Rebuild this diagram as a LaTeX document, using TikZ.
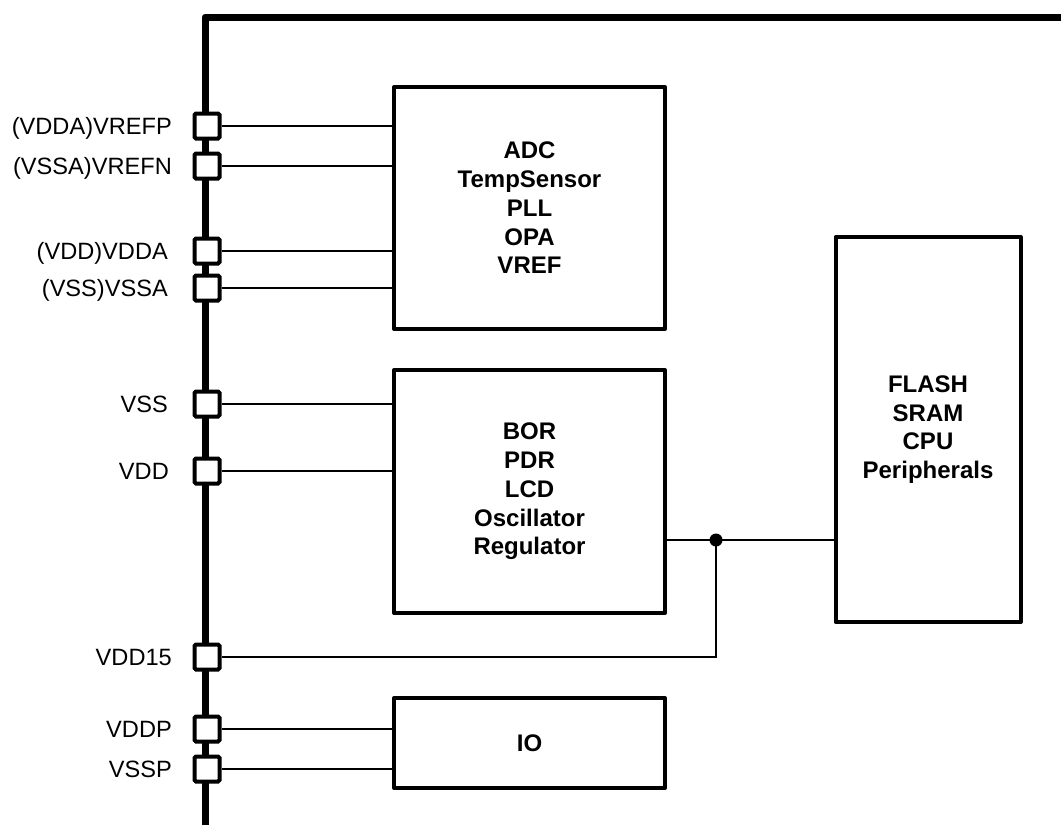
\documentclass[tikz,border=0pt]{standalone}
\usepackage{fontspec}
\setmainfont{Liberation Sans}
\begin{document}
\begin{tikzpicture}[x=1pt,y=-1pt,
  bus/.style={line width=7pt, line join=round},
  pin/.style={draw, line width=4pt, fill=white, minimum size=25pt, inner sep=0pt, rounded corners=1.5pt},
  blk/.style={draw, line width=4pt, fill=white, align=center, inner sep=0pt, line join=round,
    font=\fontsize{24}{28.7}\selectfont\bfseries},
  lbl/.style={anchor=base east, inner sep=0pt, font=\fontsize{23.6}{28}\selectfont},
  wire/.style={line width=2.7pt},
  dot/.style={circle, fill, inner sep=0pt, minimum size=13pt}]
\useasboundingbox (0,0) rectangle (1061,825);
% bus
\coordinate (bb) at (205,825);
\coordinate (bc) at (205,17);
\coordinate (br) at (1061,17);
\draw[bus] (bb) -- (bc) -- (br);
% blocks
\node[blk, minimum width=271pt, minimum height=242pt] (adc) at (529.5,208)
  {ADC\\TempSensor\\PLL\\OPA\\VREF};
\node[blk, minimum width=271pt, minimum height=243pt] (bor) at (529.5,491.5)
  {BOR\\PDR\\LCD\\Oscillator\\Regulator};
\node[blk, minimum width=271pt, minimum height=90pt] (io) at (529.5,743) {IO};
\node[blk, minimum width=185pt, minimum height=385pt] (flash) at (928,429.5)
  {FLASH\\SRAM\\CPU\\Peripherals};
% pins
\node[pin] (p1) at (207,126) {};
\node[pin] (p2) at (207,166) {};
\node[pin] (p3) at (207,251) {};
\node[pin] (p4) at (207,288) {};
\node[pin] (p5) at (207,404) {};
\node[pin] (p6) at (207,471) {};
\node[pin] (p7) at (207,657) {};
\node[pin] (p8) at (207,729) {};
\node[pin] (p9) at (207,769) {};
% labels
\node[lbl] (l1) at (172,134.4) {(VDDA)VREFP};
\node[lbl] (l2) at (172,174.4) {(VSSA)VREFN};
\node[lbl] (l3) at (168,259.4) {(VDD)VDDA};
\node[lbl] (l4) at (168,296.4) {(VSS)VSSA};
\node[lbl] (l5) at (168,412.4) {VSS};
\node[lbl] (l6) at (169,479.4) {VDD};
\node[lbl] (l7) at (172,665.4) {VDD15};
\node[lbl] (l8) at (172,737.4) {VDDP};
\node[lbl] (l9) at (172,777.4) {VSSP};
% wires
\draw[wire] (p1.east) -- (adc.west |- p1.east);
\draw[wire] (p2.east) -- (adc.west |- p2.east);
\draw[wire] (p3.east) -- (adc.west |- p3.east);
\draw[wire] (p4.east) -- (adc.west |- p4.east);
\draw[wire] (p5.east) -- (bor.west |- p5.east);
\draw[wire] (p6.east) -- (bor.west |- p6.east);
\draw[wire] (p8.east) -- (io.west |- p8.east);
\draw[wire] (p9.east) -- (io.west |- p9.east);
\node[dot] (j) at (716,540) {};
\draw[wire] (bor.east |- j) -- (flash.west |- j);
\draw[wire] (p7.east) -| (j.center);
\end{tikzpicture}
\end{document}
